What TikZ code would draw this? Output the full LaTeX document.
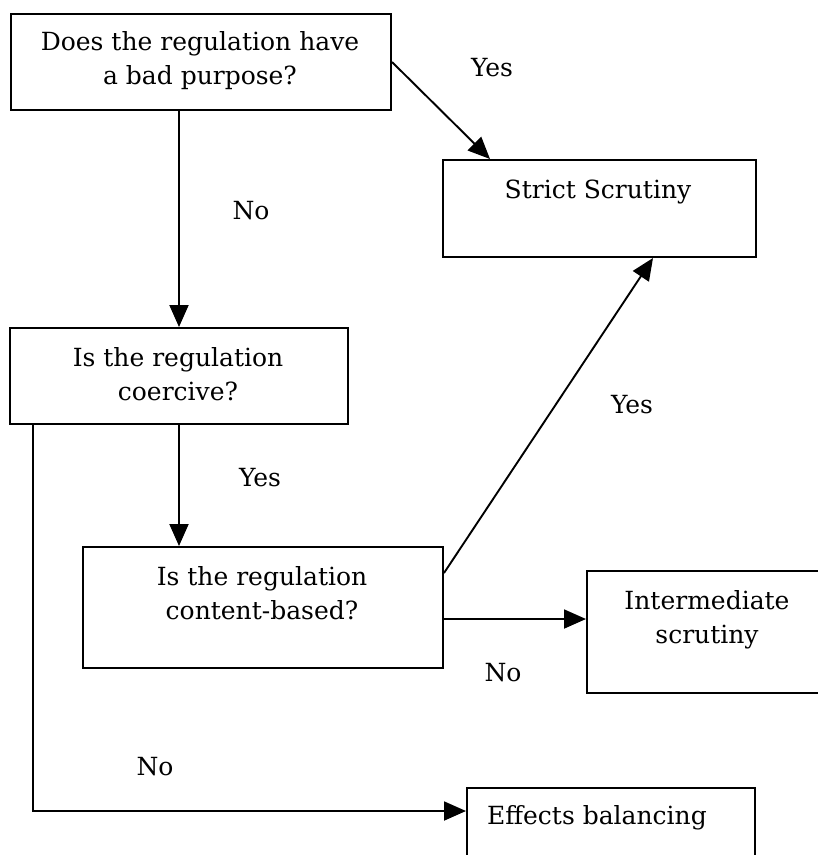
\documentclass[tikz,border=0pt]{standalone}
\usepackage{fontspec}
\setmainfont{DejaVu Serif}
\usetikzlibrary{arrows.meta}
\begin{document}
\begin{tikzpicture}[x=1pt,y=-1pt,
  box/.style={draw, line width=2pt, inner sep=0pt, anchor=north west},
  txt/.style={align=center, inner sep=0pt, anchor=base, font=\fontsize{25}{34}\selectfont},
  arr/.style={line width=1.9pt, -{Triangle[length=22pt,width=19pt]}}]
\path[use as bounding box] (0,0) rectangle (818,855);
\clip (0,0) rectangle (818,855);
\fill[white] (0,0) rectangle (818,855);
% boxes
\node[box, minimum width=380pt, minimum height=96pt]  (b1) at (10,13) {};
\node[box, minimum width=313pt, minimum height=97pt]  (b2) at (442,159) {};
\node[box, minimum width=338pt, minimum height=96pt]  (b3) at (9,327) {};
\node[box, minimum width=360pt, minimum height=121pt] (b4) at (82,546) {};
\node[box, minimum width=260pt, minimum height=122pt] (b5) at (586,570) {};
\node[box, minimum width=288pt, minimum height=100pt] (b6) at (466,787) {};
% box texts (base = last line)
\node[txt] (t1) at (200,84) {Does the regulation have\\a bad purpose?};
\node[txt] (t2) at (598,198) {Strict Scrutiny};
\node[txt] (t3) at (178,400) {Is the regulation\\coercive?};
\node[txt] (t4) at (262,619) {Is the regulation\\content-based?};
\node[txt] (t5) at (707,643) {Intermediate\\scrutiny};
\node[txt] (t6) at (597,824) {Effects balancing};
% labels
\node[txt] (l1) at (492,76) {Yes};
\node[txt] (l2) at (251,219) {No};
\node[txt] (l3) at (260,486) {Yes};
\node[txt] (l4) at (632,413) {Yes};
\node[txt] (l5) at (503,681) {No};
\node[txt] (l6) at (155,775) {No};
% connectors
\draw[arr] ([xshift=169pt]b1.south west) -- ([xshift=170pt]b3.north west);
\draw[arr] (b1.east) -- ([xshift=48pt]b2.north west);
\draw[arr] ([xshift=170pt]b3.south west) -- ([xshift=97pt]b4.north west);
\draw[arr] ([yshift=-27pt]b4.north east) -- ([xshift=211pt]b2.south west);
\draw[arr] ([yshift=-73pt]b4.north east) -- ([yshift=-49pt]b5.north west);
\draw[arr] ([xshift=24pt]b3.south west) |- ([yshift=-24pt]b6.north west);
\end{tikzpicture}
\end{document}
